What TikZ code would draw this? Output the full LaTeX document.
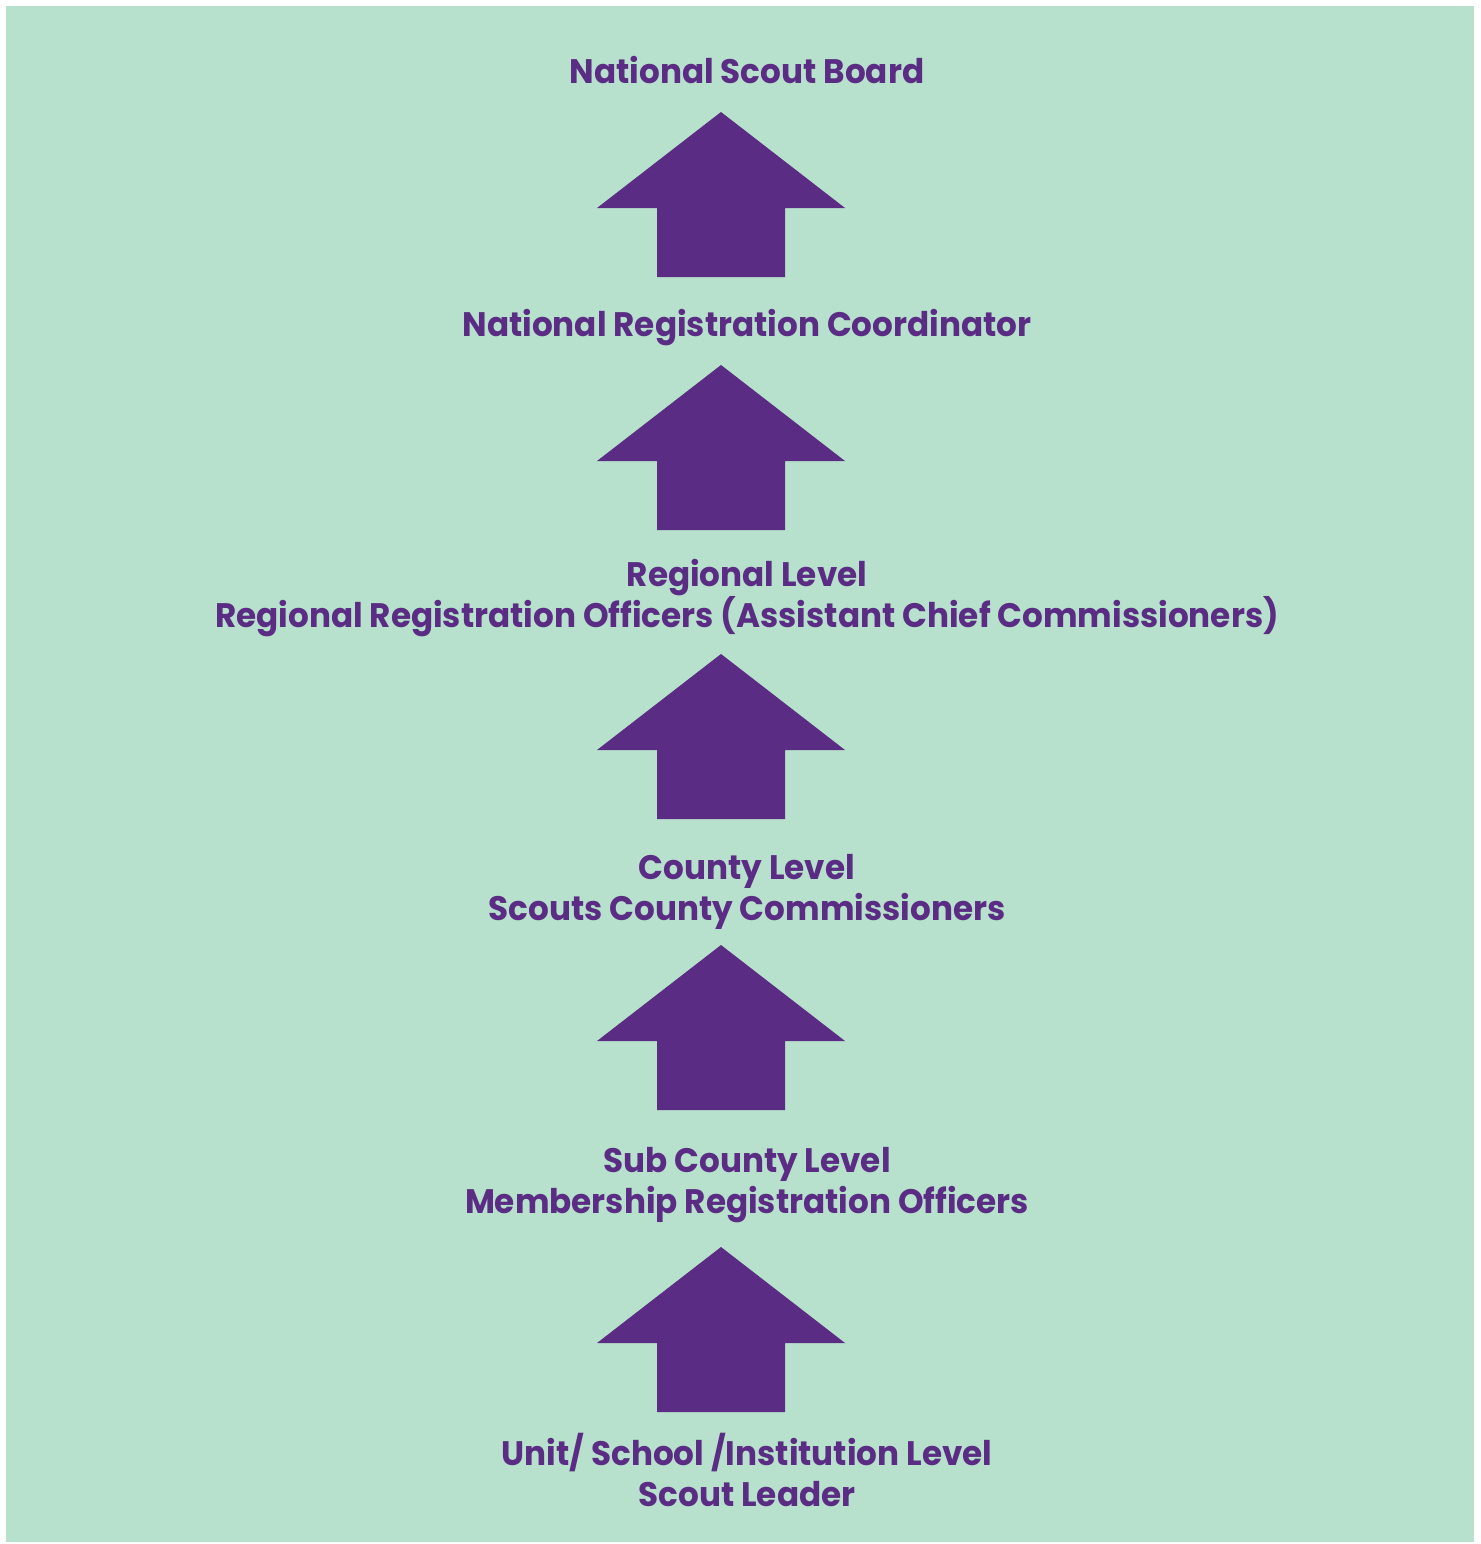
\documentclass[tikz,border=0pt]{standalone}
\usepackage{fontspec}
\setmainfont{Poppins}[FakeStretch=0.96]
\definecolor{scoutpurple}{RGB}{91,44,131}
\definecolor{scoutgreen}{RGB}{183,225,205}
\begin{document}
\begin{tikzpicture}[x=1pt,y=-1pt,
  lbl/.style={text=scoutpurple,font=\fontsize{34}{42}\selectfont\bfseries,anchor=base,inner sep=0pt},
  uparrow/.pic={\fill[scoutpurple] (-64,165) -- (64,165) -- (64,96) -- (124,96) -- (0,0) -- (-124,96) -- (-64,96) -- cycle;}]
\useasboundingbox (0,0) rectangle (1480,1544);
\fill[scoutgreen] (6,6) rectangle (1474,1542);
\node[lbl] (nsb) at (747,84) {National Scout Board};
\node[lbl] (nrc) at (747,336) {National Registration Coordinator};
\node[lbl] (reg1) at (747,586) {Regional Level};
\node[lbl] (reg2) at (747,627) {Regional Registration Officers (Assistant Chief Commissioners)};
\node[lbl] (cty1) at (747,879) {County Level};
\node[lbl] (cty2) at (747,920) {Scouts County Commissioners};
\node[lbl] (sub1) at (747,1172) {Sub County Level};
\node[lbl] (sub2) at (747,1213) {Membership Registration Officers};
\node[lbl] (unit1) at (747,1465) {Unit/ School /Institution Level};
\node[lbl] (unit2) at (747,1506) {Scout Leader};
\pic at (721,112) {uparrow};
\pic at (721,365) {uparrow};
\pic at (721,654) {uparrow};
\pic at (721,945) {uparrow};
\pic at (721,1247) {uparrow};
\end{tikzpicture}
\end{document}
